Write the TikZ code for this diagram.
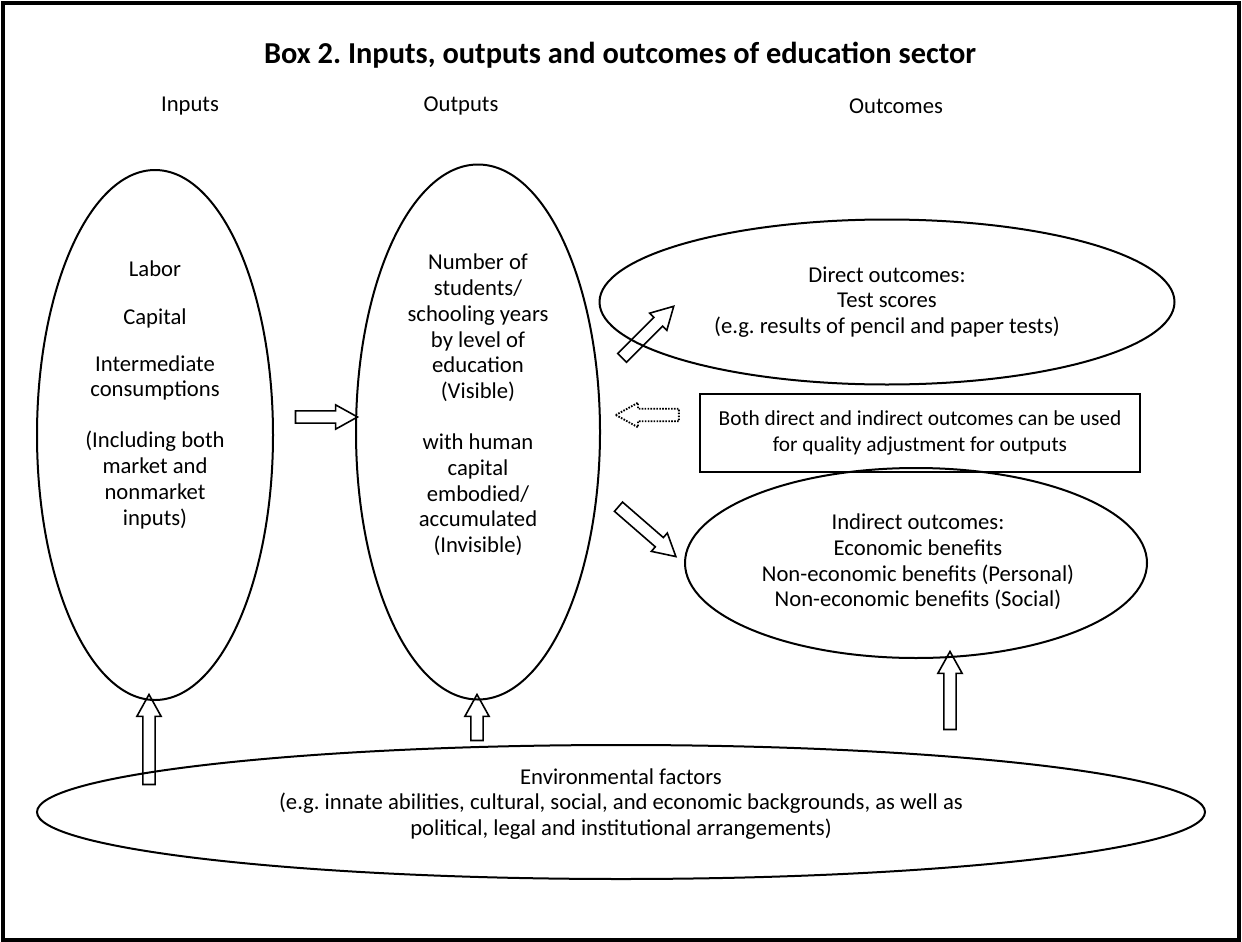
\documentclass[tikz,border=0pt]{standalone}
\usepackage{fontspec}
\setmainfont{Carlito}
\frenchspacing
\usetikzlibrary{shapes.geometric,shapes.arrows}
\begin{document}
\begin{tikzpicture}[x=0.75pt,y=-0.75pt,
  every node/.style={font=\fontsize{17}{19.3}\selectfont, inner sep=0pt, align=center},
  oval/.style={ellipse, draw, line width=1.5pt, inner sep=0pt},
  blockarr/.style={single arrow, draw, line width=1.2pt, inner sep=4pt,
     single arrow head extend=4.5pt, single arrow tip angle=58, single arrow head indent=0pt, minimum height=#1}]
\useasboundingbox (0,0) rectangle (1242,942);
\draw[line width=2.4pt] (3,3) rectangle (1239,940);
\node[font=\fontsize{22.8}{26}\selectfont\bfseries] (title) at (620,55) {Box 2. Inputs, outputs and outcomes of education sector};
\node (hin) at (190,106) {Inputs};
\node (hout) at (461,106) {Outputs};
\node (hoc) at (896,106) {Outcomes};
% ellipses
\node[oval, minimum width=236*0.75pt, minimum height=530*0.75pt] (inp) at (155,435) {};
\node[oval, minimum width=244*0.75pt, minimum height=535*0.75pt] (outp) at (478,432) {};
\node[oval, minimum width=575*0.75pt, minimum height=165*0.75pt] (direct) at (887,302) {};
\node[oval, minimum width=462*0.75pt, minimum height=190*0.75pt] (indirect) at (916,563) {};
\node[oval, minimum width=1168*0.75pt, minimum height=134*0.75pt] (env) at (621,812) {};
\node[draw, line width=1.2pt, minimum width=440*0.75pt, minimum height=78*0.75pt] (note) at (920,433) {};
% texts
\node (tin) at (155,395) {Labor\\[16pt]Capital\\[16pt]Intermediate\\consumptions\\[19pt](Including both\\market and\\nonmarket\\inputs)};
\node (tout) at (478,405) {Number of\\students/\\schooling years\\by level of\\education\\(Visible)\\[19pt]with human\\capital\\embodied/\\accumulated\\(Invisible)};
\node (tdir) at (887,302) {Direct outcomes:\\Test scores\\(e.g. results of pencil and paper tests)};
\node (tind) at (918,562) {Indirect outcomes:\\Economic benefits\\Non-economic benefits (Personal)\\Non-economic benefits (Social)};
\node[font=\fontsize{16}{19.3}\selectfont] (tnote) at (920,433) {Both direct and indirect outcomes can be used\\for quality adjustment for outputs};
\node (tenv) at (621,804) {Environmental factors\\(e.g. innate abilities, cultural, social, and economic backgrounds, as well as\\political, legal and institutional arrangements)};
% arrows
\node[blockarr=62*0.75pt] (a1) at (321,417) {};
\node[blockarr=73*0.75pt, rotate=45] (a2) at (644,336) {};
\node[blockarr=76*0.75pt, rotate=-41] (a3) at (643,528) {};
\node[blockarr=63*0.75pt, rotate=180, densely dotted, line width=1.4pt] (a4) at (653,415) {};
\node[blockarr=90*0.75pt, rotate=90] (a5) at (149,745) {};
\node[blockarr=46*0.75pt, rotate=90] (a6) at (477,723) {};
\node[blockarr=78*0.75pt, rotate=90] (a7) at (950,696) {};
\end{tikzpicture}
\end{document}
